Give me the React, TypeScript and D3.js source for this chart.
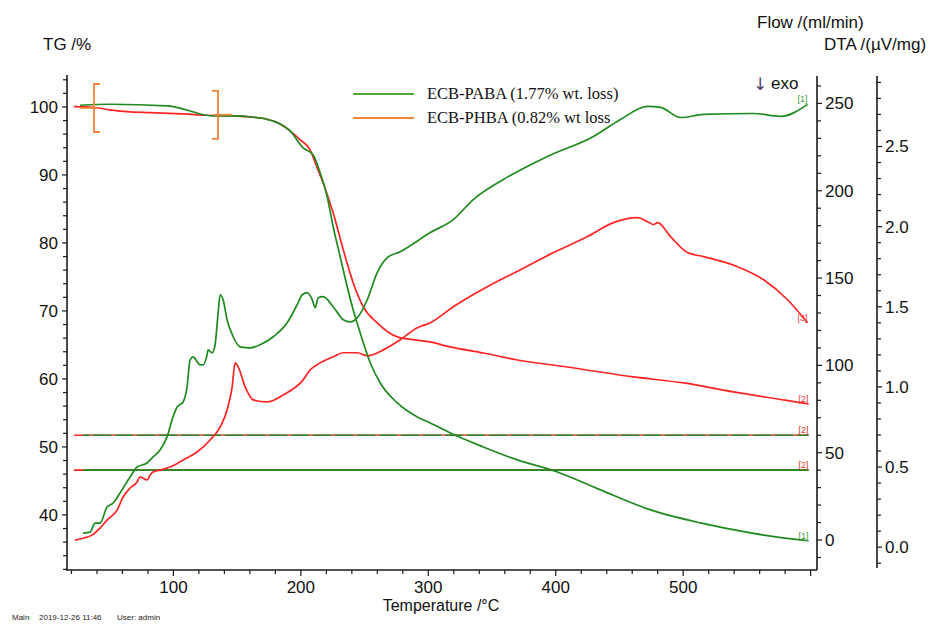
import React, { useEffect, useRef } from 'react';
import * as d3 from 'd3';

// TG /% against temperature /°C
const tgPaba: [number, number][] = [
  [26.7, 100.25], [50.3, 100.4], [94.8, 100.15], [110.5, 99.56], [120.9, 98.97],
  [131.4, 98.68], [147.1, 98.68], [162.8, 98.49], [173.3, 98.19], [183.8, 97.5],
  [191.6, 96.47], [201.8, 93.97], [209.7, 92.94], [215.2, 90.29], [220.7, 86.76],
  [225.4, 82.35], [230.9, 77.94], [236.4, 73.53], [241.1, 70.15], [246.6, 66.76],
  [254.5, 62.35], [262.3, 59.41], [275.7, 56.47], [291.4, 54.41], [301.6, 53.53],
  [317.3, 52.06], [343.2, 50.0], [369.9, 48.09], [401.3, 46.32], [435.1, 43.68],
  [474.4, 40.74], [513.6, 38.82], [552.9, 37.35], [592.2, 36.32], [598.4, 36.2],
];

const tgPhba: [number, number][] = [
  [22.0, 100.04], [37.1, 99.96], [50.3, 99.56], [63.4, 99.31], [81.7, 99.16],
  [107.8, 98.97], [126.2, 98.78], [146.9, 98.68], [162.6, 98.49], [173.6, 98.19],
  [183.8, 97.5], [191.6, 96.47], [199.5, 95.15], [207.3, 93.68], [211.3, 91.76],
  [217.5, 88.82], [225.4, 84.41], [233.3, 78.97], [241.1, 74.12], [249.0, 70.59],
  [259.9, 68.24], [275.7, 66.18], [301.6, 65.44], [317.3, 64.71], [343.2, 63.82],
  [369.9, 62.79], [409.2, 61.76], [461.0, 60.29], [500.3, 59.41], [539.5, 58.09],
  [578.8, 56.91], [598.4, 56.32],
];

// DTA /(µV/mg) against temperature /°C
const dtaPaba: [number, number][] = [
  [29.1, 0.088], [34.6, 0.094], [38.5, 0.15], [42.4, 0.15], [47.9, 0.25], [52.6, 0.275],
  [58.1, 0.338], [66.0, 0.438], [71.5, 0.5], [79.3, 0.525], [84.0, 0.563], [89.5, 0.606],
  [95.0, 0.688], [99.7, 0.813], [102.9, 0.875], [107.6, 0.906], [110.7, 1.0], [113.1, 1.169],
  [115.4, 1.188], [120.9, 1.138], [123.3, 1.138], [126.4, 1.2], [127.2, 1.231], [130.4, 1.213],
  [132.7, 1.263], [135.1, 1.463], [136.7, 1.575], [139.0, 1.544], [142.1, 1.419], [146.9, 1.313],
  [152.4, 1.25], [160.2, 1.244], [168.1, 1.263], [178.3, 1.313], [189.3, 1.4], [197.1, 1.513],
  [201.1, 1.575], [205.0, 1.588], [208.9, 1.544], [211.3, 1.494], [213.6, 1.556], [217.5, 1.563],
  [225.4, 1.5], [233.3, 1.419], [238.7, 1.406], [244.2, 1.431], [252.1, 1.544], [259.9, 1.713],
  [267.8, 1.806], [278.0, 1.844], [301.6, 1.963], [319.6, 2.044], [335.3, 2.169], [358.9, 2.294],
  [393.5, 2.438], [429.6, 2.563], [450.8, 2.669], [472.0, 2.75], [482.2, 2.744], [497.9, 2.681],
  [516.0, 2.7], [555.2, 2.706], [576.4, 2.688], [597.6, 2.763],
];

const dtaPhba: [number, number][] = [
  [22.8, 0.044], [29.1, 0.056], [36.1, 0.075], [42.4, 0.119], [47.9, 0.169], [55.8, 0.231],
  [60.5, 0.313], [66.0, 0.369], [71.5, 0.406], [73.8, 0.438], [79.3, 0.419], [81.7, 0.45],
  [84.0, 0.469], [89.5, 0.481], [97.4, 0.5], [107.6, 0.544], [118.6, 0.594], [128.8, 0.669],
  [136.7, 0.75], [142.1, 0.856], [146.1, 1.0], [148.4, 1.15], [150.8, 1.125], [156.3, 1.0],
  [162.6, 0.919], [173.6, 0.906], [186.1, 0.95], [201.8, 1.044], [207.3, 1.106], [215.2, 1.15],
  [225.4, 1.188], [233.3, 1.213], [244.2, 1.213], [252.1, 1.194], [264.7, 1.231], [278.0, 1.294],
  [291.4, 1.369], [301.6, 1.4], [319.6, 1.5], [346.3, 1.625], [372.3, 1.731], [398.2, 1.838],
  [424.9, 1.938], [445.3, 2.025], [464.2, 2.056], [472.0, 2.031], [476.7, 2.013], [479.9, 2.025],
  [490.1, 1.938], [503.4, 1.838], [516.0, 1.813], [542.7, 1.75], [563.1, 1.669], [581.9, 1.544],
  [597.6, 1.4],
];

// Flow /(ml/min), constant over the run
const flowLevels = [60, 40];
const flowStartPaba = 29.1;
const flowStartPhba = 22.0;
const runEnd = 598.4;

// mass-step markers (temperature, TG)
const stepMarkers = [
  { t: 37.7, tg: 99.85, side: 'left' },
  { t: 135.0, tg: 98.85, side: 'right' },
];

const legendLabels = ['ECB-PABA (1.77% wt. loss)', 'ECB-PHBA (0.82% wt loss'];
const xTicks = [100, 200, 300, 400, 500];
const tgTicks = [40, 50, 60, 70, 80, 90, 100];
const flowTicks = [0, 50, 100, 150, 200, 250];
const dtaTicks = [0, 0.5, 1.0, 1.5, 2.0, 2.5];

const GREEN = '#1f8a1f';
const RED = '#ff2424';
const ORANGE = '#f0843a';
const AXIS = '#1a1a1a';
const FONT = 'Arial, "Liberation Sans", sans-serif';

const App = () => {
  const chartRef = useRef<HTMLDivElement>(null);

  useEffect(() => {
    const width = 933;
    const height = 624;

    const x = d3.scaleLinear().domain([16.5, 605]).range([67, 817]);
    const yTg = d3.scaleLinear().domain([31.9, 104.7]).range([570, 75]);
    const yFlow = d3.scaleLinear().domain([-16.6, 265.7]).range([569, 76]);
    const yDta = d3.scaleLinear().domain([-0.13, 2.94]).range([568, 76]);

    const root = d3.select(chartRef.current);
    const svg = root
      .append('svg')
      .attr('width', width)
      .attr('height', height)
      .style('position', 'absolute')
      .style('left', 0)
      .style('top', 0)
      .style('background', '#fff')
      .attr('font-family', FONT);

    // axes
    const ax = svg.append('g').attr('stroke', AXIS).attr('stroke-width', 1.6);
    ax.append('line').attr('x1', 67).attr('x2', 67).attr('y1', 75).attr('y2', 570);
    ax.append('line').attr('x1', 66).attr('x2', 817).attr('y1', 570).attr('y2', 570);
    ax.append('line').attr('x1', 817).attr('x2', 817).attr('y1', 76).attr('y2', 570);
    ax.append('line').attr('x1', 877).attr('x2', 877).attr('y1', 76).attr('y2', 568);

    const tk = svg.append('g').attr('stroke', AXIS).attr('stroke-width', 1.2);
    // x ticks every 20
    d3.range(20, 601, 20).forEach(t => {
      const major = t % 100 === 0;
      tk.append('line').attr('x1', x(t)).attr('x2', x(t)).attr('y1', 570).attr('y2', 570 + (major ? 6 : 4));
    });
    // TG ticks every 2
    d3.range(32, 105, 2).forEach(v => {
      const major = v % 10 === 0;
      tk.append('line').attr('x1', 67 - (major ? 5 : 4)).attr('x2', 67).attr('y1', yTg(v)).attr('y2', yTg(v));
    });
    // Flow ticks every 10
    d3.range(-10, 261, 10).forEach(v => {
      const major = v % 50 === 0;
      tk.append('line').attr('x1', 817).attr('x2', 817 + (major ? 5 : 4)).attr('y1', yFlow(v)).attr('y2', yFlow(v));
    });
    // DTA ticks every 0.1
    d3.range(-1, 30).forEach(i => {
      const v = i / 10;
      const major = i % 5 === 0;
      tk.append('line').attr('x1', 877).attr('x2', 877 + (major ? 5 : 4)).attr('y1', yDta(v)).attr('y2', yDta(v));
    });

    const labels = svg.append('g').attr('fill', '#111').attr('font-size', 17);
    xTicks.forEach(t => {
      labels.append('text').attr('x', x(t)).attr('y', 593).attr('text-anchor', 'middle').text(t);
    });
    tgTicks.forEach(v => {
      labels.append('text').attr('x', 58).attr('y', yTg(v)).attr('dy', '0.35em').attr('text-anchor', 'end').text(v);
    });
    flowTicks.forEach(v => {
      labels.append('text').attr('x', 825).attr('y', yFlow(v)).attr('dy', '0.35em').text(v);
    });
    dtaTicks.forEach(v => {
      labels.append('text').attr('x', 885).attr('y', yDta(v)).attr('dy', '0.35em').text(d3.format('.1f')(v));
    });

    labels.append('text').attr('x', 43).attr('y', 50).text('TG /%');
    labels.append('text').attr('x', 757).attr('y', 28).text('Flow /(ml/min)');
    labels.append('text').attr('x', 824).attr('y', 50).text('DTA /(µV/mg)');
    labels.append('text').attr('x', 441).attr('y', 611).attr('text-anchor', 'middle').attr('font-size', 16).text('Temperature /°C');
    labels.append('text').attr('x', 753).attr('y', 90).attr('font-size', 17).attr('font-family', '"DejaVu Sans", sans-serif').attr('fill', '#4b3b63').text('↓');
    labels.append('text').attr('x', 771).attr('y', 89).text('exo');

    const footer = svg.append('g').attr('font-size', 8).attr('fill', '#222');
    footer.append('text').attr('x', 12).attr('y', 620).text('Main');
    footer.append('text').attr('x', 39).attr('y', 620).text('2019-12-26 11:46');
    footer.append('text').attr('x', 117).attr('y', 620).text('User: admin');

    // flow lines
    const fl = svg.append('g').attr('stroke-width', 1.6);
    flowLevels.forEach(f => {
      fl.append('line').attr('x1', x(flowStartPhba)).attr('x2', x(runEnd)).attr('y1', yFlow(f)).attr('y2', yFlow(f)).attr('stroke', RED);
      fl.append('line').attr('x1', x(flowStartPaba)).attr('x2', x(runEnd)).attr('y1', yFlow(f)).attr('y2', yFlow(f)).attr('stroke', GREEN);
    });
    fl.append('line')
      .attr('x1', x(flowStartPaba) + 6).attr('x2', x(runEnd))
      .attr('y1', yFlow(flowLevels[0])).attr('y2', yFlow(flowLevels[0]))
      .attr('stroke', '#ff6a6a').attr('stroke-width', 1.3).attr('stroke-dasharray', '4,18');

    const lineTg = d3.line<[number, number]>().x(d => x(d[0])).y(d => yTg(d[1])).curve(d3.curveMonotoneX);
    const lineDta = d3.line<[number, number]>().x(d => x(d[0])).y(d => yDta(d[1])).curve(d3.curveMonotoneX);

    const curves = svg.append('g').attr('fill', 'none').attr('stroke-width', 1.7).attr('stroke-linejoin', 'round');
    curves.append('path').attr('d', lineTg(tgPhba)).attr('stroke', RED);
    curves.append('path').attr('d', lineDta(dtaPhba)).attr('stroke', RED);
    curves.append('path').attr('d', lineTg(tgPaba)).attr('stroke', GREEN);
    curves.append('path').attr('d', lineDta(dtaPaba)).attr('stroke', GREEN);

    // end-of-curve labels
    const ends = [
      { px: x(tgPaba[tgPaba.length - 1][0]), py: yTg(tgPaba[tgPaba.length - 1][1]), txt: '[1]', c: '#3a9a3a' },
      { px: x(dtaPaba[dtaPaba.length - 1][0]), py: yDta(dtaPaba[dtaPaba.length - 1][1]), txt: '[1]', c: '#3a9a3a' },
      { px: x(tgPhba[tgPhba.length - 1][0]), py: yTg(tgPhba[tgPhba.length - 1][1]), txt: '[2]', c: '#f03a3a' },
      { px: x(dtaPhba[dtaPhba.length - 1][0]), py: yDta(dtaPhba[dtaPhba.length - 1][1]), txt: '[3]', c: '#f03a3a' },
      { px: x(runEnd), py: yFlow(flowLevels[0]), txt: '[2]', c: '#d83a2a' },
      { px: x(runEnd), py: yFlow(flowLevels[1]), txt: '[2]', c: '#d83a2a' },
    ];
    svg.append('g').attr('font-size', 9).attr('text-anchor', 'middle')
      .selectAll('text').data(ends).enter().append('text')
      .attr('x', d => d.px - 5).attr('y', d => d.py - 2).attr('fill', d => d.c).text(d => d.txt);

    // orange step brackets
    const br = svg.append('g').attr('stroke', ORANGE).attr('stroke-width', 1.8).attr('fill', 'none');
    stepMarkers.forEach(m => {
      const cx = x(m.t);
      const cy = yTg(m.tg);
      const dir = m.side === 'left' ? 1 : -1;
      br.append('path').attr('d', `M${cx + 6 * dir},${cy - 24}H${cx}V${cy + 24}H${cx + 6 * dir}`);
      br.append('line').attr('x1', cx - 14 * dir).attr('x2', cx + 4 * dir).attr('y1', cy).attr('y2', cy);
    });

    // legend
    const lg = svg.append('g').attr('font-family', '"Liberation Serif", "Times New Roman", serif').attr('font-size', 16.5).attr('fill', '#111');
    ['#4fa832', ORANGE].forEach((c, i) => {
      const ly = 94 + i * 24;
      lg.append('line').attr('x1', 353).attr('x2', 414).attr('y1', ly).attr('y2', ly).attr('stroke', c).attr('stroke-width', 1.8);
      lg.append('text').attr('x', 427).attr('y', ly).attr('dy', '0.33em').text(legendLabels[i]);
    });

    return () => {
      d3.select(chartRef.current).selectAll('*').remove();
    };
  }, []);

  return <div ref={chartRef}></div>;
};

export default App;
